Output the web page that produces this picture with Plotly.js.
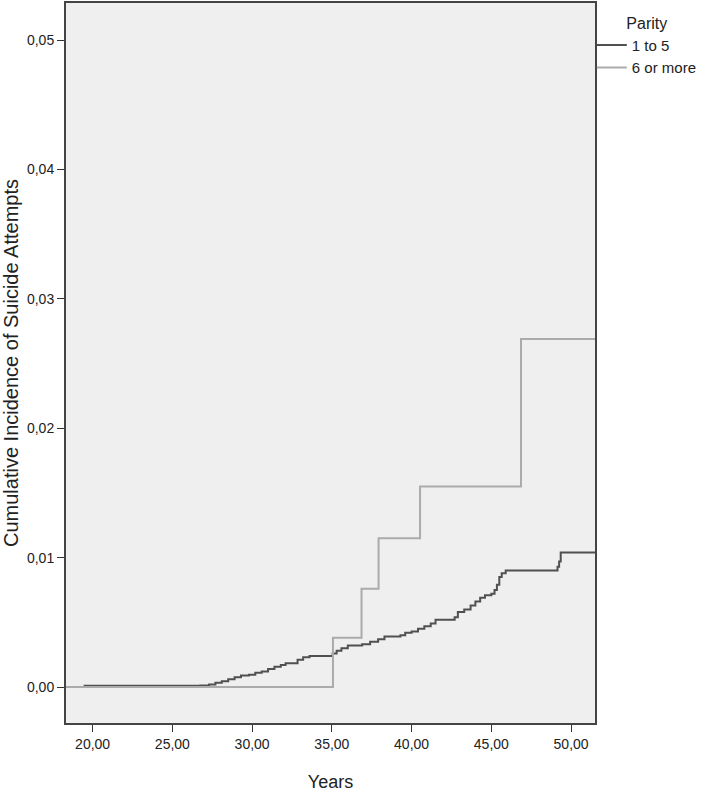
<!DOCTYPE html>
<html>
<head>
<meta charset="utf-8">
<script src="https://cdn.plot.ly/plotly-3.0.1.min.js"></script>
<style>
  html, body { margin: 0; padding: 0; background: #ffffff; }
  #chart { width: 705px; height: 800px; }
</style>
</head>
<body>
<div id="chart"></div>
<script>
// Series "1 to 5" (step curve, years vs cumulative incidence)
const parity1to5Years = [18.33, 19.5, 26.75, 27.3, 27.7, 28.1, 28.5, 28.9, 29.3, 29.8, 30.2, 30.6, 31.0, 31.4, 31.8, 32.1, 32.85, 33.2, 33.6, 35.05, 35.3, 35.6, 36.0, 36.9, 37.4, 37.9, 38.3, 39.3, 39.6, 40.0, 40.4, 40.8, 41.2, 41.5, 42.7, 42.9, 43.3, 43.7, 44.0, 44.3, 44.6, 45.0, 45.2, 45.35, 45.5, 45.65, 45.9, 49.15, 49.25, 49.35, 51.5];
const parity1to5Values = [0, 0.0001, 0.00012, 0.0002, 0.00033, 0.00045, 0.0006, 0.00075, 0.0009, 0.00095, 0.0011, 0.0012, 0.0014, 0.00157, 0.0017, 0.00183, 0.0021, 0.0023, 0.0024, 0.0026, 0.0028, 0.003, 0.0032, 0.0033, 0.0035, 0.0037, 0.0039, 0.004, 0.0042, 0.0043, 0.0045, 0.0047, 0.0049, 0.0052, 0.0054, 0.0058, 0.006, 0.0063, 0.0066, 0.0069, 0.0071, 0.0072, 0.0075, 0.0079, 0.0085, 0.0088, 0.009, 0.0093, 0.0097, 0.0104, 0.0104];

// Series "6 or more"
const parity6plusYears = [18.33, 35.07, 36.86, 37.93, 40.53, 46.86, 51.5];
const parity6plusValues = [0, 0.0038, 0.0076, 0.0115, 0.0155, 0.0269, 0.0269];

const seriesNames = ["1 to 5", "6 or more"];
const xTickValues = [20, 25, 30, 35, 40, 45, 50];
const yTickValues = [0, 0.01, 0.02, 0.03, 0.04, 0.05];

const font = "Liberation Sans, Arial, sans-serif";
const nb = "\u00a0";

const traces = [
  {
    x: parity1to5Years, y: parity1to5Values, name: seriesNames[0],
    type: "scatter", mode: "lines",
    line: { shape: "hv", color: "#505050", width: 2 }
  },
  {
    x: parity6plusYears, y: parity6plusValues, name: seriesNames[1],
    type: "scatter", mode: "lines",
    line: { shape: "hv", color: "#ababab", width: 2 }
  }
];

const layout = {
  width: 705, height: 800,
  margin: { l: 66, r: 110, t: 3, b: 77, autoexpand: false },
  paper_bgcolor: "#ffffff",
  plot_bgcolor: "#efefef",
  separators: ",.",
  font: { family: font, color: "#222222", size: 14 },
  showlegend: true,
  legend: {
    x: 0.994, xanchor: "left", y: 0.993, yanchor: "top",
    bgcolor: "rgba(0,0,0,0)",
    font: { family: font, size: 15, color: "#222222" },
    title: { text: "Parity", side: "top center", font: { family: font, size: 16, color: "#222222" } },
    tracegroupgap: 0
  },
  xaxis: {
    range: [18.33, 51.5],
    tickvals: xTickValues,
    tickformat: ".2f",
    ticks: "outside", ticklen: 7, tickwidth: 1, tickcolor: "#333333",
    showgrid: false, zeroline: false,
    showline: true, linecolor: "#444444", linewidth: 2, mirror: true,
    tickfont: { family: font, size: 14, color: "#222222" },
    title: { text: "Years", font: { family: font, size: 18, color: "#222222" } }
  },
  yaxis: {
    range: [-0.00278, 0.05286],
    tickvals: yTickValues,
    tickformat: ".2f",
    ticks: "outside", ticklen: 7, tickwidth: 1, tickcolor: "#333333",
    showgrid: false, zeroline: false,
    showline: true, linecolor: "#444444", linewidth: 2, mirror: true,
    tickfont: { family: font, size: 14, color: "#222222" },
    title: { text: nb.repeat(8) + "Cumulative Incidence of Suicide Attempts", font: { family: font, size: 20, color: "#222222" } }
  }
};

Plotly.newPlot("chart", traces, layout, { staticPlot: true, displayModeBar: false });
</script>
</body>
</html>
